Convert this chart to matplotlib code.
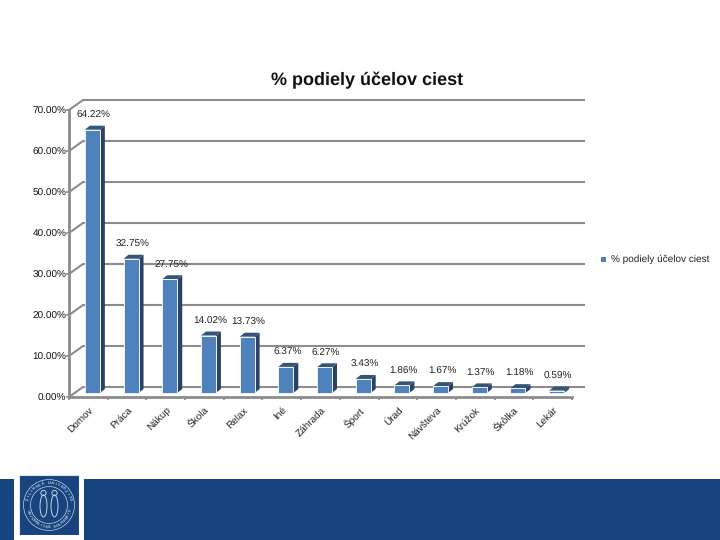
import matplotlib
matplotlib.use("Agg")
import matplotlib.pyplot as plt
import numpy as np
from matplotlib.patches import Rectangle, Polygon, Circle, Ellipse

plt.rcParams['font.family'] = ['Liberation Sans', 'DejaVu Sans']
plt.rcParams['text.hinting'] = 'no_hinting'
plt.rcParams['text.hinting_factor'] = 1

categories = ["Domov", "Práca", "Nákup", "Škola", "Relax", "Iné", "Záhrada",
              "Šport", "Úrad", "Návšteva", "Krúžok", "Škôlka", "Lekár"]
values = [64.22, 32.75, 27.75, 14.02, 13.73, 6.37, 6.27, 3.43, 1.86, 1.67, 1.37, 1.18, 0.59]
y_ticks = [0, 10, 20, 30, 40, 50, 60, 70]
title = "% podiely účelov ciest"
series_name = "% podiely účelov ciest"

W, H = 720, 540
L, R, T, B = 69, 572, 110, 397
GRID = '#8c8c8c'
FRONT = '#4f81bd'
SIDE = '#2a4263'
TOPC = '#345478'
NAVY = '#17437f'

fig = plt.figure(figsize=(7.2, 5.4), dpi=100, facecolor='white')
ax = fig.add_axes([L / W, 1 - B / H, (R - L) / W, (B - T) / H])
ax.set_xlim(0, len(categories))
ax.set_ylim(0, 70)
ax.patch.set_alpha(0)
for s in ax.spines.values():
    s.set_visible(False)

px_x = len(categories) / (R - L)
px_y = 70 / (B - T)
wall_dx, wall_dy = 14 * px_x, 10 * px_y
wall_end = 13 * px_x

# walls and gridlines
for v in y_ticks:
    ax.plot([0, wall_dx, len(categories) + wall_end], [v, v + wall_dy, v + wall_dy],
            color=GRID, lw=1.5, clip_on=False, zorder=1, solid_capstyle='butt')
ax.plot([0, 0], [0, 70], color=GRID, lw=2, clip_on=False, zorder=3)
ax.plot([0, len(categories)], [0, 0], color=GRID, lw=2, clip_on=False, zorder=3)

# axis ticks
ax.set_yticks(y_ticks)
ax.set_yticklabels([f"{v:.2f}%" for v in y_ticks], fontsize=7, color='#111111')
ax.tick_params(axis='y', length=2, width=1.2, color=GRID, pad=0)
ax.set_xticks(np.arange(len(categories)) + 0.5)
ax.set_xticklabels(categories, rotation=45, ha='right', va='top', rotation_mode='anchor',
                   fontsize=7.2, color='#222222')
ax.tick_params(axis='x', which='major', length=0, pad=6)
ax.set_xticks(np.arange(len(categories) + 1), minor=True)
ax.tick_params(axis='x', which='minor', length=2.5, width=1.2, color=GRID)

# 3-D bars
bw = 15 * px_x
shift = 4 * px_x
base = 4 * px_y
ddx, ddy = 5 * px_x, 4 * px_y
for i, v in enumerate(values):
    x0 = i + 0.5 + shift - bw / 2
    x1 = x0 + bw
    y0, y1 = base, base + v
    ax.add_patch(Polygon([(x1, y0), (x1 + ddx, y0 + ddy), (x1 + ddx, y1 + ddy), (x1, y1)],
                         closed=True, fc=SIDE, ec='none', clip_on=False, zorder=4))
    ax.add_patch(Polygon([(x0, y1), (x1, y1), (x1 + ddx, y1 + ddy), (x0 + ddx, y1 + ddy)],
                         closed=True, fc=TOPC, ec='none', clip_on=False, zorder=4))
    ax.add_patch(Rectangle((x0, y0), bw, v, fc=FRONT, ec='#eef3f8', lw=0.7, clip_on=False, zorder=5))
    ax.annotate(f"{v:.2f}%", (i + 0.5 + shift, y1), xytext=(1, 7), textcoords='offset points',
                ha='center', va='bottom', fontsize=7.3, color='#222222', zorder=6, annotation_clip=False)

# title and legend
fig.text(367.5 / W, 1 - 80 / H, title, ha='center', va='center', fontsize=13.2, fontweight='bold', color='#111111')
fig.add_artist(Rectangle((601 / W, 1 - 261.5 / H), 5 / W, 5 / H, transform=fig.transFigure, fc=FRONT, ec='none'))
fig.text(611 / W, 1 - 259 / H, series_name, ha='left', va='center', fontsize=7.1, color='#222222')

# footer band
fig.add_artist(Rectangle((84 / W, 0), (W - 84) / W, 61 / H, transform=fig.transFigure, fc=NAVY, ec='none'))
fig.add_artist(Rectangle((0, 0), 14 / W, 61 / H, transform=fig.transFigure, fc=NAVY, ec='none'))

# university seal
lg = fig.add_axes([19 / W, 1 - 535 / H, 60 / W, 60 / H])
lg.set_xlim(-30, 30); lg.set_ylim(-30, 30); lg.set_aspect('equal'); lg.axis('off')
lg.add_patch(Rectangle((-30, -30), 60, 60, fc=NAVY, ec='#d9e3ef', lw=0.8))
SEAL = '#c4d2e4'
for r, w in ((25.5, 0.5), (18.5, 0.5)):
    lg.add_patch(Circle((0, 0), r, fc='none', ec=SEAL, lw=w))
def ring(txt, start, end, rad, flip=False):
    for ch, a in zip(txt, np.linspace(start, end, len(txt))):
        rot = np.degrees(a) - 90 if not flip else np.degrees(a) + 90
        lg.text(rad * np.cos(a), rad * np.sin(a), ch, fontsize=2.8, color=SEAL, ha='center',
                va='center', rotation=rot, fontweight='bold')
ring("ŽILINSKÁ UNIVERZITA", np.radians(165), np.radians(15), 22)
ring("UNIVERSITAS SOLNENSIS", np.radians(195), np.radians(345), 22, flip=True)
for cx in (-5.5, 5.5):
    lg.add_patch(Ellipse((cx, -1), 7, 22, fc='none', ec=SEAL, lw=0.7))
    lg.add_patch(Circle((cx, 12), 2.6, fc='none', ec=SEAL, lw=0.7))

fig.savefig("out.png", dpi=100, facecolor='white')
